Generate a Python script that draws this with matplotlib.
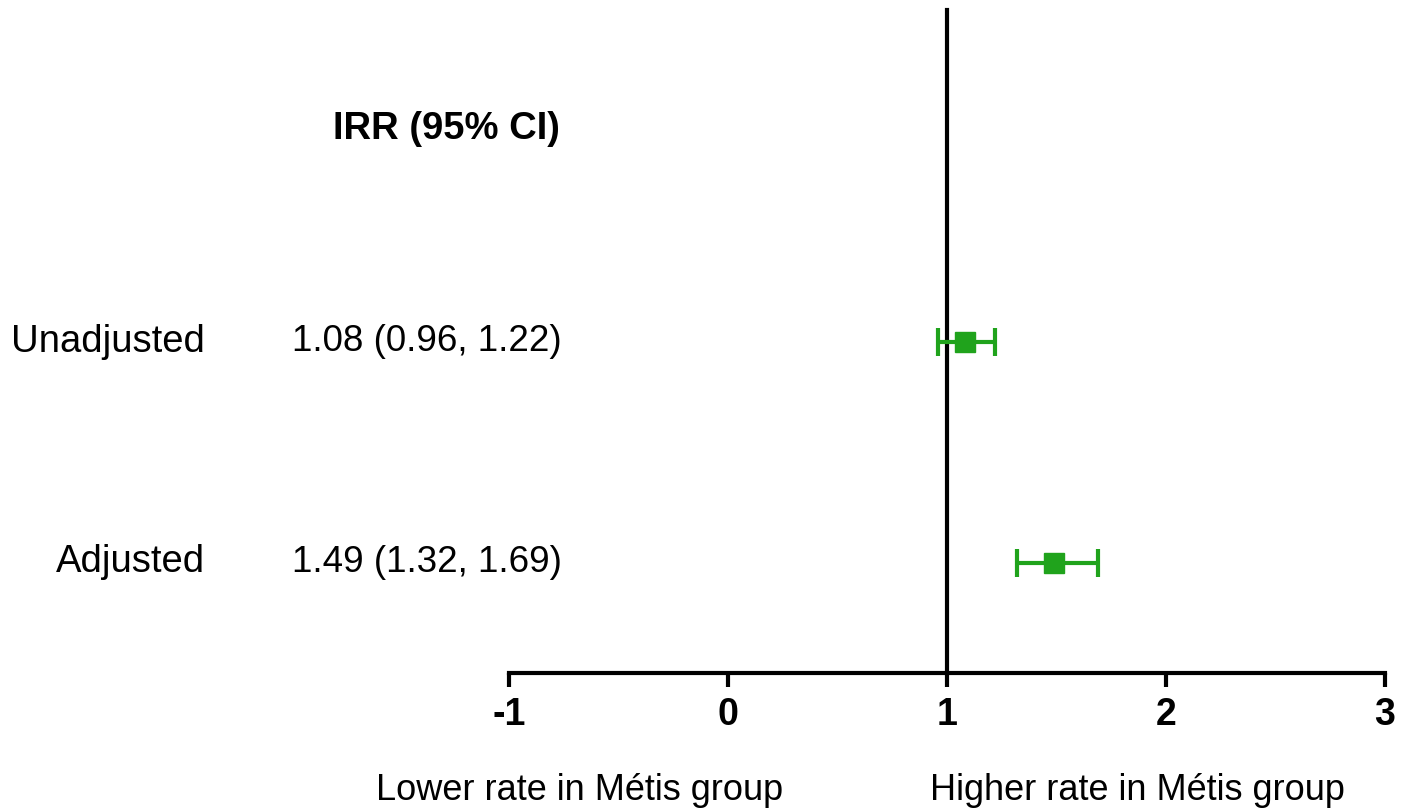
import matplotlib.pyplot as plt
import matplotlib as mpl
import matplotlib.transforms as mtransforms

mpl.rcParams['font.family'] = ['Liberation Sans', 'DejaVu Sans']

# Rows of the forest plot
labels = ["Unadjusted", "Adjusted"]
irr = [1.08, 1.49]
ci_low = [0.96, 1.32]
ci_high = [1.22, 1.69]
rows = [2, 1]
xticks = [-1, 0, 1, 2, 3]

green = "#20a31c"

fig = plt.figure(figsize=(14.1, 8.1), dpi=100)
ax = fig.add_axes([509 / 1410, 1 - 673 / 810, (1385 - 509) / 1410, 663 / 810])

err = [[m - lo for m, lo in zip(irr, ci_low)], [hi - m for m, hi in zip(irr, ci_high)]]
ax.errorbar(irr, rows, xerr=err, fmt='s', color=green, ecolor=green,
            markersize=14, elinewidth=3, capsize=10, capthick=3, zorder=3)

ax.set_xlim(-1, 3)
ax.set_ylim(0.5, 3.5)
ax.set_xticks(xticks)
ax.set_xticklabels([str(t) for t in xticks], fontsize=27, fontweight='bold')
ax.tick_params(axis='x', length=10, width=3, pad=7)
ax.set_yticks([])

for s in ['top', 'right']:
    ax.spines[s].set_visible(False)
ax.spines['bottom'].set_linewidth(3)
ax.spines['left'].set_position(('data', 1))
ax.spines['left'].set_linewidth(3)

# Text columns on the left
tr = mtransforms.blended_transform_factory(fig.transFigure, ax.transData)
for lab, m, lo, hi, r in zip(labels, irr, ci_low, ci_high, rows):
    ax.text(205 / 1410, r, lab, fontsize=27.5, ha='right', va='center', transform=tr)
    ax.text(562 / 1410, r, f"{m:.2f} ({lo:.2f}, {hi:.2f})", fontsize=26.5,
            ha='right', va='center', transform=tr)

ax.text(560 / 1410, 2.96, "IRR (95% CI)", fontsize=27.5, fontweight='bold',
        ha='right', va='center', transform=tr)

fig.text(580 / 1410, 1 - 790 / 810, "Lower rate in Métis group", fontsize=26, ha='center', va='center')
fig.text(1137 / 1410, 1 - 790 / 810, "Higher rate in Métis group", fontsize=26, ha='center', va='center')

fig.savefig("out.png", dpi=100)
